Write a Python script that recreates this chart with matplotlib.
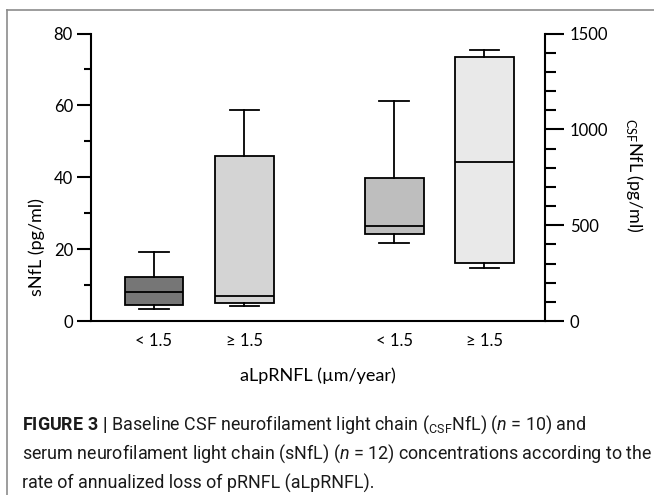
import matplotlib
matplotlib.use("Agg")
import matplotlib.pyplot as plt
from matplotlib import font_manager as fm
from matplotlib.lines import Line2D
from matplotlib.ticker import MultipleLocator

# ---------------- data ----------------
groups = ["< 1.5", "\u2265 1.5"]
xlabel = "aLpRNFL (\u00b5m/year)"
# serum NfL (left axis, pg/ml)
snfl_whislo = [3.3, 4.2]
snfl_q1 = [4.5, 4.9]
snfl_med = [8.0, 7.0]
snfl_q3 = [12.3, 45.8]
snfl_whishi = [19.3, 58.8]
# CSF NfL (right axis, pg/ml)
csf_whislo = [408, 278]
csf_q1 = [452, 302]
csf_med = [495, 830]
csf_q3 = [747, 1380]
csf_whishi = [1146, 1415]

snfl_colors = ["#767676", "#d4d4d4"]
csf_colors = ["#bebebe", "#e9e9e9"]

# ---------------- fonts ----------------
avail = {f.name for f in fm.fontManager.ttflist}
label_font = "Lato" if "Lato" in avail else "DejaVu Sans"
cap_font = "Liberation Sans Narrow" if "Liberation Sans Narrow" in avail else "Roboto"
narrow = cap_font == "Liberation Sans Narrow"

plt.rcParams["mathtext.fontset"] = "custom"
plt.rcParams["mathtext.rm"] = cap_font
plt.rcParams["mathtext.it"] = cap_font + ":italic"
plt.rcParams["mathtext.bf"] = cap_font + ":bold"
plt.rcParams["mathtext.sf"] = label_font

fig = plt.figure(figsize=(6.54, 4.95), dpi=100)
W, H = 654, 495
ax = fig.add_axes([91 / W, 1 - 321 / H, (545 - 91) / W, (321 - 33.5) / H])
ax2 = ax.twinx()

pos_s = [1.0, 2.0]
pos_c = [3.66, 4.66]
bw = 0.65


def stats(lo, q1, med, q3, hi, labels):
    return [dict(whislo=lo[i], q1=q1[i], med=med[i], q3=q3[i], whishi=hi[i],
                 fliers=[], label=labels[i]) for i in range(len(lo))]


lw = 1.3
kw = dict(widths=bw, patch_artist=True, showfliers=False,
          boxprops=dict(edgecolor="black", linewidth=lw),
          medianprops=dict(color="black", linewidth=lw),
          whiskerprops=dict(color="black", linewidth=lw),
          capprops=dict(color="black", linewidth=lw),
          manage_ticks=False)

b1 = ax.bxp(stats(snfl_whislo, snfl_q1, snfl_med, snfl_q3, snfl_whishi, groups),
            positions=pos_s, **kw)
b2 = ax2.bxp(stats(csf_whislo, csf_q1, csf_med, csf_q3, csf_whishi, groups),
             positions=pos_c, **kw)
for p, c in zip(b1["boxes"], snfl_colors):
    p.set_facecolor(c)
for p, c in zip(b2["boxes"], csf_colors):
    p.set_facecolor(c)

ax.set_xlim(0.304, 5.33)
ax.set_ylim(0, 80)
ax2.set_ylim(0, 1500)

for a in (ax, ax2):
    a.spines["top"].set_visible(False)
    for s in ("left", "right", "bottom"):
        a.spines[s].set_linewidth(1.5)
ax.spines["right"].set_visible(False)
ax2.spines["left"].set_visible(False)
ax2.spines["bottom"].set_visible(False)

ax.set_xticks(pos_s + pos_c)
ax.set_xticklabels(groups + groups, fontfamily=label_font, fontsize=12)
ax.tick_params(axis="x", length=0, pad=9)

ax.yaxis.set_major_locator(MultipleLocator(20))
ax.yaxis.set_minor_locator(MultipleLocator(10))
ax.tick_params(axis="y", which="major", length=10, width=1.5, pad=3, labelsize=12)
ax.tick_params(axis="y", which="minor", length=5, width=1.5)
for t in ax.get_yticklabels():
    t.set_fontfamily(label_font)

ax2.yaxis.set_major_locator(MultipleLocator(500))
ax2.yaxis.set_minor_locator(MultipleLocator(100))
ax2.tick_params(axis="y", which="major", length=14, width=1.5, pad=4, labelsize=12)
ax2.tick_params(axis="y", which="minor", length=8, width=1.5)
for t in ax2.get_yticklabels():
    t.set_fontfamily(label_font)

ax.set_ylabel("sNfL (pg/ml)", fontfamily=label_font, fontsize=13)
ax.yaxis.set_label_coords(37 / W, 0.5, transform=fig.transFigure)
ax.yaxis.label.set_va("center")
ax2.set_ylabel(r"${}_{\mathsf{CSF}}$NfL (pg/ml)", fontfamily=label_font, fontsize=13,
               rotation=270)
ax2.yaxis.set_label_coords(634 / W, 1 - 175 / H, transform=fig.transFigure)
ax2.yaxis.label.set_va("center")
ax2.yaxis.label.set_ha("center")

fig.text(318 / W, 1 - 376 / H, xlabel, fontfamily=label_font, fontsize=13,
         ha="center", va="center")

# frame around the figure panel
frame_c = "#8c8c8c"
fig.add_artist(Line2D([7 / W, 7 / W], [0, 1 - 10 / H], color=frame_c, lw=1.2,
                      transform=fig.transFigure))
fig.add_artist(Line2D([7 / W, 1], [1 - 10 / H, 1 - 10 / H], color=frame_c, lw=1.2,
                      transform=fig.transFigure))

# caption
cap_size = 12.5 if narrow else 12.9
cap_lines = [
    r"$\mathbf{FIGURE\ 3\ |}$ Baseline CSF neurofilament light chain (${}_{\mathrm{CSF}}$NfL) ($n$ = 10) and",
    r"serum neurofilament light chain (sNfL) ($n$ = 12) concentrations according to the",
    r"rate of annualized loss of pRNFL (aLpRNFL).",
]
for y, line in zip([425, 454, 483], cap_lines):
    fig.text(22 / W, 1 - y / H, line, fontfamily=cap_font, fontsize=cap_size,
             ha="left", va="center", color="#1a1a1a")

fig.savefig("out.png", dpi=100)
